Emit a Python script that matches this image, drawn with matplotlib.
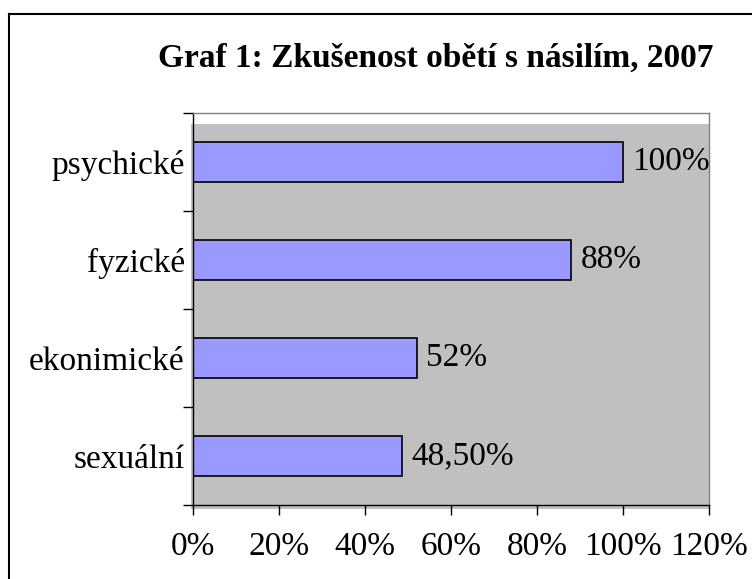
import matplotlib
matplotlib.use("Agg")
import matplotlib.pyplot as plt
from matplotlib.patches import Rectangle
from matplotlib.ticker import FuncFormatter

plt.rcParams["font.family"] = ["Liberation Serif", "DejaVu Serif"]

categories = ["sexuální", "ekonimické", "fyzické", "psychické"]
values = [48.5, 52, 88, 100]
value_labels = ["48,50%", "52%", "88%", "100%"]
title = "Graf 1: Zkušenost obětí s násilím, 2007"

fig = plt.figure(figsize=(7.52, 5.79), dpi=100)
fig.patch.set_facecolor("white")

# outer chart border (cropped on the right and bottom)
fig.add_artist(plt.Line2D([9 / 752, 9 / 752], [0, 1 - 14 / 579], color="black", lw=1.5))
fig.add_artist(plt.Line2D([9 / 752, 1], [1 - 14 / 579, 1 - 14 / 579], color="black", lw=1.5))

ax = fig.add_axes([193 / 752, 1 - 505 / 579, (709 - 193) / 752, (505 - 113) / 579])
ax.set_facecolor("white")
# grey plot area fill
ax.add_patch(Rectangle((-0.004, -0.01), 1.004, 0.982, transform=ax.transAxes,
                       facecolor="#C0C0C0", edgecolor="none", zorder=0, clip_on=False))

y = range(len(categories))
ax.barh(y, values, height=0.4, color="#9999FF", edgecolor="black", linewidth=1.2, zorder=2)
for yi, v, lab in zip(y, values, value_labels):
    ax.text(v + 2.2, yi, lab, va="center", ha="left", fontsize=24, zorder=3)

ax.set_xlim(0, 120)
ax.set_ylim(-0.5, len(categories) - 0.5)
ax.set_xticks(range(0, 121, 20))
ax.xaxis.set_major_formatter(FuncFormatter(lambda v, p: f"{v:.0f}%"))
ax.set_yticks([i - 0.5 for i in range(len(categories) + 1)])
ax.set_yticklabels([])
ax.set_yticks(list(y), minor=True)
ax.set_yticklabels(categories, minor=True)
ax.tick_params(axis="y", which="minor", length=0, pad=6, labelsize=24)
ax.tick_params(axis="y", which="major", length=7, width=1, direction="out")
ax.tick_params(axis="x", length=7, width=1, direction="out", pad=12, labelsize=24)

for s in ["top", "right"]:
    ax.spines[s].set_color("#808080")
    ax.spines[s].set_linewidth(1)
ax.spines["left"].set_color("black")
ax.spines["bottom"].set_color("black")
ax.spines["left"].set_linewidth(1)
ax.spines["bottom"].set_linewidth(1)

fig.text(436 / 752, 1 - 58 / 579, title, ha="center", va="center",
         fontsize=24, fontweight="bold")

fig.savefig("out.png", dpi=100, facecolor="white")
